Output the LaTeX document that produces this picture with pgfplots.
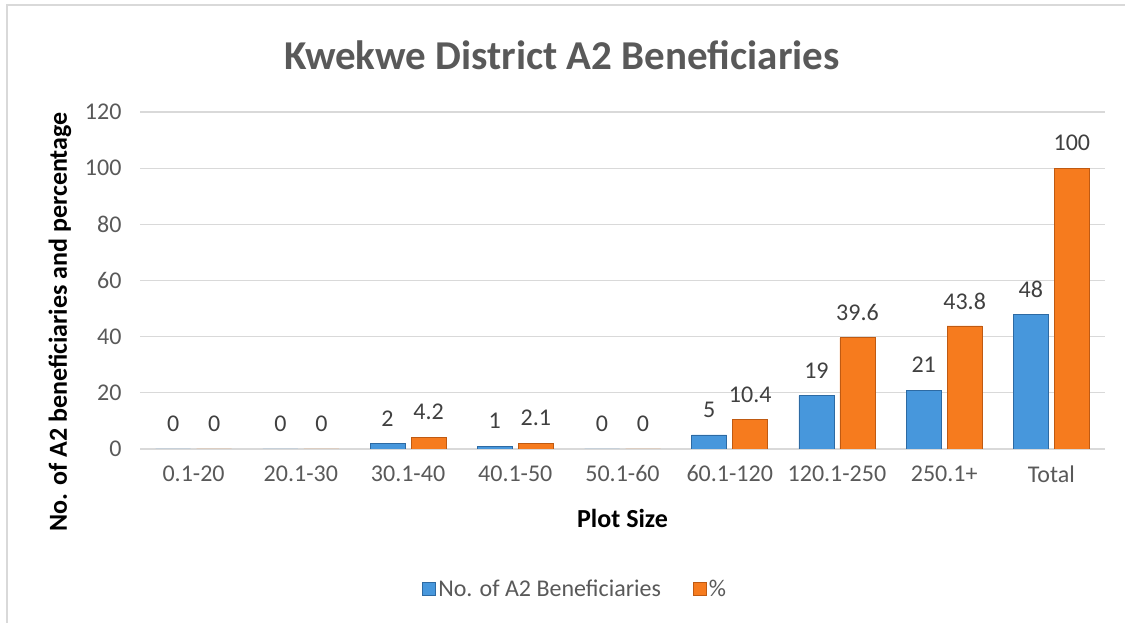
\documentclass[border=0pt]{standalone}
\usepackage{fontspec}
\setmainfont{Carlito}
\usepackage{pgfplots}
\pgfplotsset{compat=1.18}
\definecolor{bmid}{HTML}{4797DC}
\definecolor{bdark}{HTML}{2D6AA3}
\definecolor{omid}{HTML}{F67B1E}
\definecolor{odark}{HTML}{BF5A12}
\definecolor{gridc}{HTML}{D9D9D9}
\definecolor{tickc}{HTML}{595959}
\definecolor{labc}{HTML}{404040}
\begin{document}
\begin{tikzpicture}[x=1pt,y=1pt]
\useasboundingbox (0,0) rectangle (1125,623);
\draw[gridc, line width=1.5pt] (7,0) -- (7,618) -- (1125,618);
\node[font=\fontsize{41}{48}\selectfont\bfseries, text=tickc] at (562,568) {Kwekwe District A2 Beneficiaries};
\begin{axis}[
  at={(140pt,174pt)}, anchor=south west,
  scale only axis, width=965pt, height=337pt,
  ybar=6pt, bar width=35pt,
  xmin=-0.5, xmax=8.5, ymin=0, ymax=120,
  ytick={0,20,...,120},
  xtick=data,
  xticklabels={0.1-20,20.1-30,30.1-40,40.1-50,50.1-60,60.1-120,120.1-250,250.1+,Total},
  axis line style={draw=none},
  major tick length=0pt,
  ymajorgrids, major grid style={gridc, line width=1.2pt},
  tick label style={font=\fontsize{24}{28}\selectfont, text=tickc},
  /pgf/number format/assume math mode=true,
  xticklabel style={yshift=-13pt},
  yticklabel style={xshift=-15pt},
  nodes near coords,
  every node near coord/.append style={font=\fontsize{24}{28}\selectfont, text=labc, anchor=center, yshift=25pt},
  xlabel={Plot Size}, ylabel={No. of A2 beneficiaries and percentage},
  label style={font=\fontsize{26}{30}\selectfont\bfseries, text=black},
  xlabel style={at={(axis description cs:0.5,-0.205)}, anchor=center},
  ylabel style={at={(axis description cs:-0.083,0.377)}, anchor=center},
  legend style={at={(axis description cs:0.451,-0.415)}, anchor=center, draw=none, font=\fontsize{24}{28}\selectfont, text=tickc, legend columns=2, /tikz/every even column/.append style={column sep=30pt}},
  legend image code/.code={\fill[#1] (0pt,-6.5pt) rectangle (13pt,6.5pt);},
]
\addplot[draw=bdark, line width=0.8pt, fill=bmid]
  coordinates {(0,0) (1,0) (2,2) (3,1) (4,0) (5,5) (6,19) (7,21) (8,48)};
\addplot[draw=odark, line width=0.8pt, fill=omid]
  coordinates {(0,0) (1,0) (2,4.2) (3,2.1) (4,0) (5,10.4) (6,39.6) (7,43.8) (8,100)};
\legend{No. of A2 Beneficiaries, \%}
\end{axis}
\end{tikzpicture}
\end{document}
